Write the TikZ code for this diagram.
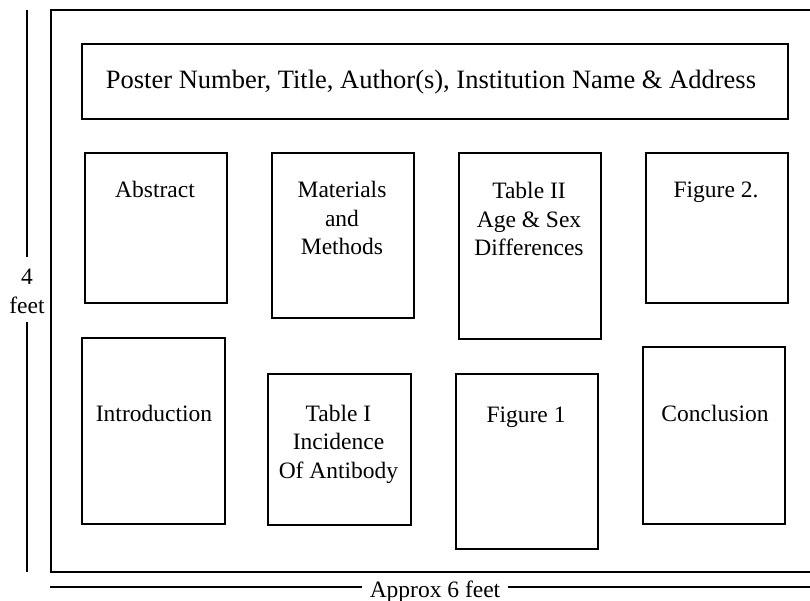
\documentclass[tikz,border=0pt]{standalone}
\usepackage{fontspec}
\setmainfont{Liberation Serif}
\begin{document}
\begin{tikzpicture}[x=1pt,y=-1pt,
  panel/.style={draw, line width=2.3pt, inner sep=0pt, anchor=north west},
  lbl/.style={font=\fontsize{23.5}{28.5}\selectfont, align=center, inner sep=0pt, anchor=base},
  rule/.style={line width=2.3pt}]
\useasboundingbox (0,0) rectangle (810,601);
% outer poster frame
\draw[rule] (815,10) -- (51,10) -- (51,572) -- (815,572);
% boxes
\node[panel, minimum width=706pt, minimum height=75pt] (title) at (81,43) {};
\node[panel, minimum width=142pt, minimum height=150pt] (abs) at (84,152) {};
\node[panel, minimum width=142pt, minimum height=165pt] (mat) at (271,152) {};
\node[panel, minimum width=142pt, minimum height=186pt] (tab2) at (458,152) {};
\node[panel, minimum width=142pt, minimum height=150pt] (fig2) at (645,152) {};
\node[panel, minimum width=143pt, minimum height=186pt] (intro) at (81,337) {};
\node[panel, minimum width=143pt, minimum height=151pt] (tab1) at (267,373) {};
\node[panel, minimum width=142pt, minimum height=175pt] (fig1) at (455,373) {};
\node[panel, minimum width=142pt, minimum height=177pt] (concl) at (642,346) {};
% texts (multi-line nodes are anchored at the baseline of their last line)
\node[lbl, font=\fontsize{26.5}{30}\selectfont] (titletxt) at (431,89) {Poster Number, Title, Author(s), Institution Name \& Address};
\node[lbl] (abstxt) at (155,198) {Abstract};
\node[lbl] (mattxt) at (342,255) {Materials\\and\\Methods};
\node[lbl] (tab2txt) at (529,256) {Table II\\Age \& Sex\\Differences};
\node[lbl] (fig2txt) at (716,198) {Figure 2.};
\node[lbl] (introtxt) at (154,421) {Introduction};
\node[lbl] (tab1txt) at (338.5,478) {Table I\\Incidence\\Of Antibody};
\node[lbl] (fig1txt) at (526,422) {Figure 1};
\node[lbl] (concltxt) at (715,421) {Conclusion};
% height dimension
\coordinate (v1) at (27,10);
\coordinate (v2) at (27,257);
\coordinate (v3) at (27,322);
\coordinate (v4) at (27,572);
\node[lbl] (htxt) at (27,313) {4\\feet};
\draw[rule] (v1) -- (v2);
\draw[rule] (v3) -- (v4);
% width dimension
\coordinate (h1) at (50,587);
\coordinate (h2) at (362,587);
\coordinate (h3) at (508,587);
\coordinate (h4) at (815,587);
\node[lbl] (wtxt) at (435,597) {Approx 6 feet};
\draw[rule] (h1) -- (h2);
\draw[rule] (h3) -- (h4);
\end{tikzpicture}
\end{document}
